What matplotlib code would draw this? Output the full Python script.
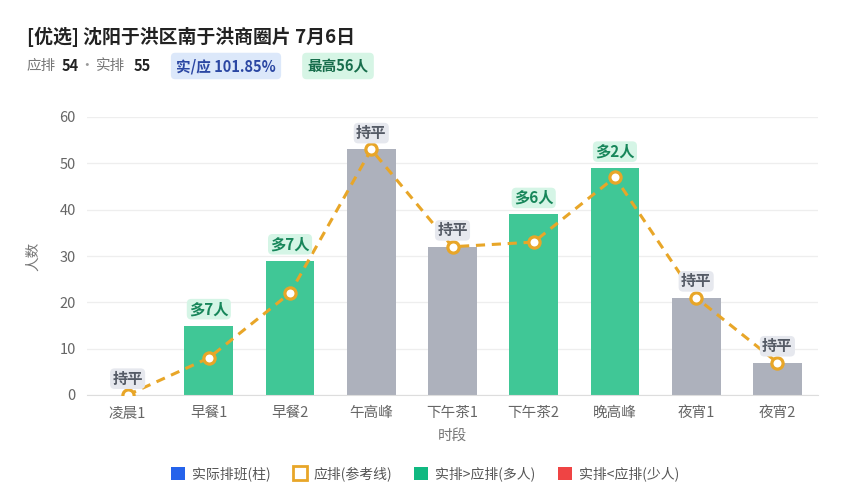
import matplotlib
matplotlib.use("Agg")
import matplotlib.pyplot as plt
from matplotlib.lines import Line2D
from matplotlib.patches import Patch

plt.rcParams["font.family"] = ["Noto Sans CJK SC", "DejaVu Sans"]

periods = ["凌晨1", "早餐1", "早餐2", "午高峰", "下午茶1", "下午茶2", "晚高峰", "夜宵1", "夜宵2"]
actual = [0, 15, 29, 53, 32, 39, 49, 21, 7]
planned = [0, 8, 22, 53, 32, 33, 47, 21, 7]

GREEN = "#40c796"
GRAY = "#adb1bc"
RED = "#ef4444"
ORANGE = "#e8a628"

W, H = 850, 500
fig = plt.figure(figsize=(8.5, 5), dpi=100)
ax = fig.add_axes([87 / W, 1 - 395 / H, (818 - 87) / W, (395 - 117) / H])

x = list(range(len(periods)))
colors = []
for a, p in zip(actual, planned):
    if a > p:
        colors.append(GREEN)
    elif a < p:
        colors.append(RED)
    else:
        colors.append(GRAY)

ax.bar(x, actual, width=0.6, color=colors, zorder=2)
ax.plot(x, planned, color=ORANGE, lw=2.2, ls=(0, (3, 2.2)), zorder=3)
ax.scatter(x, planned, s=65, facecolor="white", edgecolor=ORANGE, linewidth=2.3, zorder=4)

for i, (a, p) in enumerate(zip(actual, planned)):
    top = max(a, p)
    diff = a - p
    if diff > 0:
        txt, fc, tc = f"多{diff}人", "#d5f5e6", "#17865a"
    elif diff < 0:
        txt, fc, tc = f"少{-diff}人", "#fde2e2", "#c53030"
    else:
        txt, fc, tc = "持平", "#e6e8ee", "#555b66"
    ax.annotate(txt, (i, top), xytext=(0, 6), textcoords="offset points",
                ha="center", va="bottom", fontsize=11, fontweight="bold", color=tc,
                bbox=dict(boxstyle="round,pad=0.15,rounding_size=0.3", fc=fc, ec="none"),
                zorder=5)

ax.set_ylim(0, 60)
ax.set_xlim(-0.5, len(periods) - 0.5)
ax.set_yticks(range(0, 61, 10))
ax.set_xticks(x)
ax.set_xticklabels(periods)
ax.tick_params(axis="both", length=0, labelsize=10.5, colors="#666666", pad=8)
ax.grid(axis="y", color="#eeeeee", lw=0.9, zorder=0)
for side in ["top", "right", "left"]:
    ax.spines[side].set_visible(False)
ax.spines["bottom"].set_color("#dddddd")
ax.set_xlabel("时段", fontsize=10.5, color="#777777", labelpad=6)
ax.set_ylabel("人数", fontsize=10.5, color="#777777", labelpad=14)

# header
fig.text(27 / W, 1 - 37 / H, "[优选] 沈阳于洪区南于洪商圈片 7月6日", fontsize=13.6,
         fontweight="bold", color="#222222", va="center", ha="left")
sub_y = 1 - 66 / H
fig.text(27 / W, sub_y, "应排", fontsize=10.5, color="#777777", va="center")
fig.text(62 / W, sub_y, "54", fontsize=10.5, color="#222222", fontweight="bold", va="center")
fig.text(87 / W, sub_y, "·", fontsize=10.5, color="#999999", va="center", ha="center")
fig.text(96 / W, sub_y, "实排", fontsize=10.5, color="#777777", va="center")
fig.text(134 / W, sub_y, "55", fontsize=10.5, color="#222222", fontweight="bold", va="center")
fig.text(226 / W, sub_y, "实/应 101.85%", fontsize=10.5, color="#2b47a3", fontweight="bold",
         va="center", ha="center",
         bbox=dict(boxstyle="round,pad=0.36,rounding_size=0.3", fc="#dce8fa", ec="none"))
fig.text(338 / W, sub_y, "最高56人", fontsize=10.5, color="#186e4c", fontweight="bold",
         va="center", ha="center",
         bbox=dict(boxstyle="round,pad=0.36,rounding_size=0.3", fc="#d6f5e5", ec="none"))

handles = [
    Patch(facecolor="#2563eb", edgecolor="none", label="实际排班(柱)"),
    Line2D([], [], marker="s", ls="none", markersize=10, markerfacecolor="white",
           markeredgecolor="#e8a628", markeredgewidth=2, label="应排(参考线)"),
    Patch(facecolor="#10b981", edgecolor="none", label="实排>应排(多人)"),
    Patch(facecolor="#ef4444", edgecolor="none", label="实排<应排(少人)"),
]
fig.legend(handles=handles, loc="center", bbox_to_anchor=(425 / W, 1 - 474 / H), ncol=4,
           frameon=False, fontsize=10, handlelength=1.0, handleheight=1.0,
           handletextpad=0.5, columnspacing=1.6, labelcolor="#555555")

fig.savefig("out.png", dpi=100, facecolor="white")
